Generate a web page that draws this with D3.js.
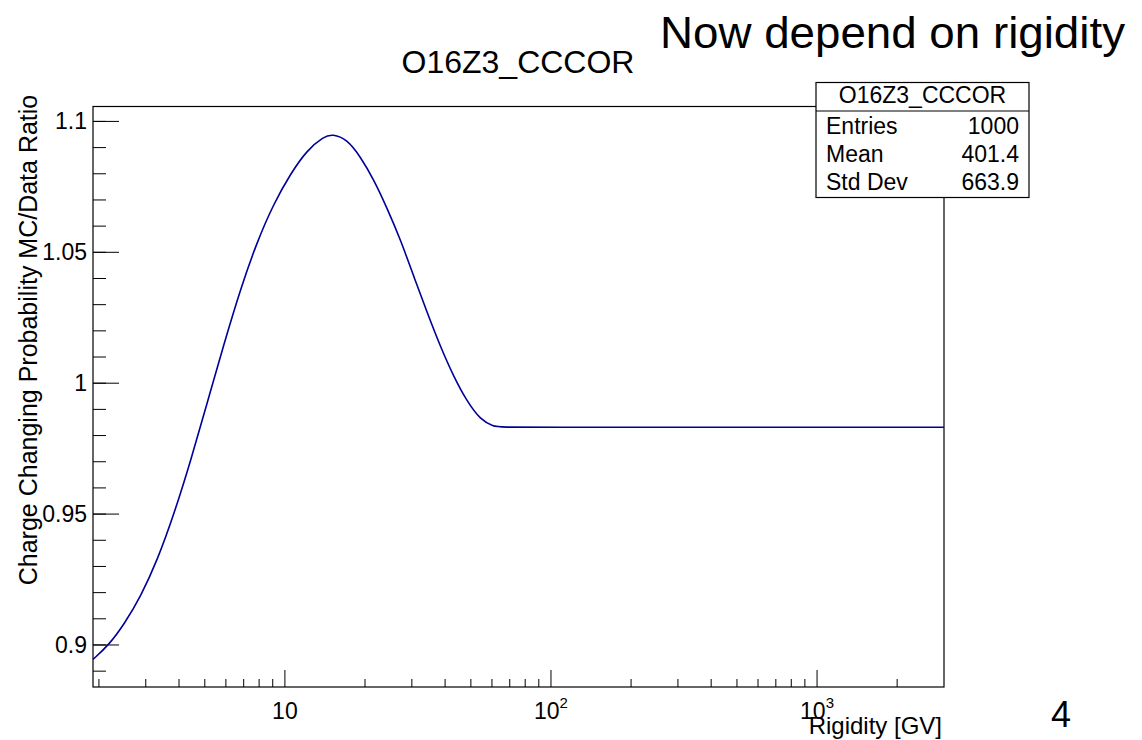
<!DOCTYPE html>
<html>
<head>
<meta charset="utf-8">
<script src="https://d3js.org/d3.v7.min.js"></script>
<style>
  body { margin: 0; background: #fff; }
  svg { display: block; }
  text { font-family: "Liberation Sans", Arial, sans-serif; fill: #000; }
</style>
</head>
<body>
<svg width="1142" height="740"></svg>
<script>
// curve: rigidity [GV] and MC/Data ratio
const rigidity = [1.9, 2.18, 2.49, 2.87, 3.32, 3.83, 4.43, 5.11, 5.91, 6.82, 7.87, 9.09,
  10.5, 12.1, 14.0, 15.1, 17.1, 19.2, 21.6, 24.2, 27.2, 30.5, 34.3, 38.4, 43.1, 48.4,
  54.3, 61.0, 64.0, 100, 300, 1000, 3000];
const ratio = [0.8945, 0.9000, 0.9080, 0.9185, 0.9325, 0.9500, 0.9705, 0.9927, 1.0152,
  1.0362, 1.0542, 1.0687, 1.0800, 1.0890, 1.0942, 1.0952, 1.0932, 1.0866, 1.0777, 1.0669,
  1.0548, 1.0408, 1.0268, 1.0140, 1.0025, 0.9930, 0.9860, 0.9834, 0.9832, 0.9832, 0.9832,
  0.9832, 0.9832];

const yMajor = [0.9, 0.95, 1, 1.05, 1.1];
const yMinor = d3.range(0.89, 1.105, 0.01);
const xMajor = [10, 100, 1000];
const xMajorLabels = ["10", "10^2", "10^3"];
const xMinor = [2,3,4,5,6,7,8,9,20,30,40,50,60,70,80,90,200,300,400,500,600,700,800,900,2000];

const statNames = ["Entries", "Mean", "Std Dev"];
const statValues = ["1000", "401.4", "663.9"];

const svg = d3.select("svg");
const L = 93, R = 944, T = 106.5, B = 687;

const x = d3.scaleLog().domain([1.9, 3000]).range([L, R]);
const y = d3.scaleLinear().domain([0.88395, 1.1057]).range([B, T]);

// frame
svg.append("rect").attr("x", L).attr("y", T).attr("width", R - L).attr("height", B - T)
  .attr("fill", "none").attr("stroke", "#000").attr("stroke-width", 1.2);

// y ticks
svg.selectAll(".ymin").data(yMinor).enter().append("line")
  .attr("x1", L).attr("x2", L + 13).attr("y1", d => y(d)).attr("y2", d => y(d))
  .attr("stroke", "#000");
svg.selectAll(".ymaj").data(yMajor).enter().append("line")
  .attr("x1", L).attr("x2", L + 26).attr("y1", d => y(d)).attr("y2", d => y(d))
  .attr("stroke", "#000");
svg.selectAll(".ylab").data(yMajor).enter().append("text")
  .attr("x", L - 6).attr("y", d => y(d) + 8)
  .attr("text-anchor", "end").attr("font-size", 23)
  .text(d => d3.format("")(d));

// x ticks
svg.selectAll(".xmin").data(xMinor).enter().append("line")
  .attr("x1", d => x(d)).attr("x2", d => x(d)).attr("y1", B).attr("y2", B - 8)
  .attr("stroke", "#000");
svg.selectAll(".xmaj").data(xMajor).enter().append("line")
  .attr("x1", d => x(d)).attr("x2", d => x(d)).attr("y1", B).attr("y2", B - 17)
  .attr("stroke", "#000");
xMajor.forEach((v, i) => {
  const parts = xMajorLabels[i].split("^");
  const t = svg.append("text").attr("x", x(v)).attr("y", 719)
    .attr("text-anchor", "middle").attr("font-size", 23);
  t.append("tspan").text(parts[0]);
  if (parts[1]) t.append("tspan").attr("font-size", 15).attr("dy", -11).text(parts[1]);
});

// curve
svg.append("path")
  .datum(d3.zip(rigidity, ratio))
  .attr("fill", "none").attr("stroke", "#000099").attr("stroke-width", 1.6)
  .attr("d", d3.line().x(d => x(d[0])).y(d => y(d[1])).curve(d3.curveBasis));

// axis titles
svg.append("text").attr("x", R - 2).attr("y", 734).attr("text-anchor", "end")
  .attr("font-size", 24).text("Rigidity [GV]");
svg.append("text").attr("transform", "translate(37,340) rotate(-90)")
  .attr("text-anchor", "middle").attr("font-size", 25)
  .text("Charge Changing Probability MC/Data Ratio");

// title
svg.append("text").attr("x", 518).attr("y", 73).attr("text-anchor", "middle")
  .attr("font-size", 32).text("O16Z3_CCCOR");

// stats box
const bx = 816, bw = 213, by = 82.5, bh = 115;
svg.append("rect").attr("x", bx).attr("y", by).attr("width", bw).attr("height", bh)
  .attr("fill", "#fff").attr("stroke", "#000").attr("stroke-width", 1.2);
svg.append("line").attr("x1", bx).attr("x2", bx + bw).attr("y1", 111).attr("y2", 111)
  .attr("stroke", "#000").attr("stroke-width", 1.2);
svg.append("text").attr("x", bx + bw / 2).attr("y", 103).attr("text-anchor", "middle")
  .attr("font-size", 23).text("O16Z3_CCCOR");
statNames.forEach((n, i) => {
  svg.append("text").attr("x", bx + 10).attr("y", 134 + i * 28).attr("font-size", 23).text(n);
  svg.append("text").attr("x", bx + bw - 10).attr("y", 134 + i * 28)
    .attr("text-anchor", "end").attr("font-size", 23).text(statValues[i]);
});

// slide annotations
svg.append("text").attr("x", 660).attr("y", 48)
  .attr("font-family", "Lato, 'Open Sans', sans-serif").attr("font-size", 45)
  .attr("textLength", 465).attr("lengthAdjust", "spacingAndGlyphs")
  .text("Now depend on rigidity");
svg.append("text").attr("x", 1061).attr("y", 727).attr("text-anchor", "middle")
  .attr("font-family", "'Liberation Serif', 'DejaVu Serif', serif").attr("font-size", 36)
  .text("4");
</script>
</body>
</html>
